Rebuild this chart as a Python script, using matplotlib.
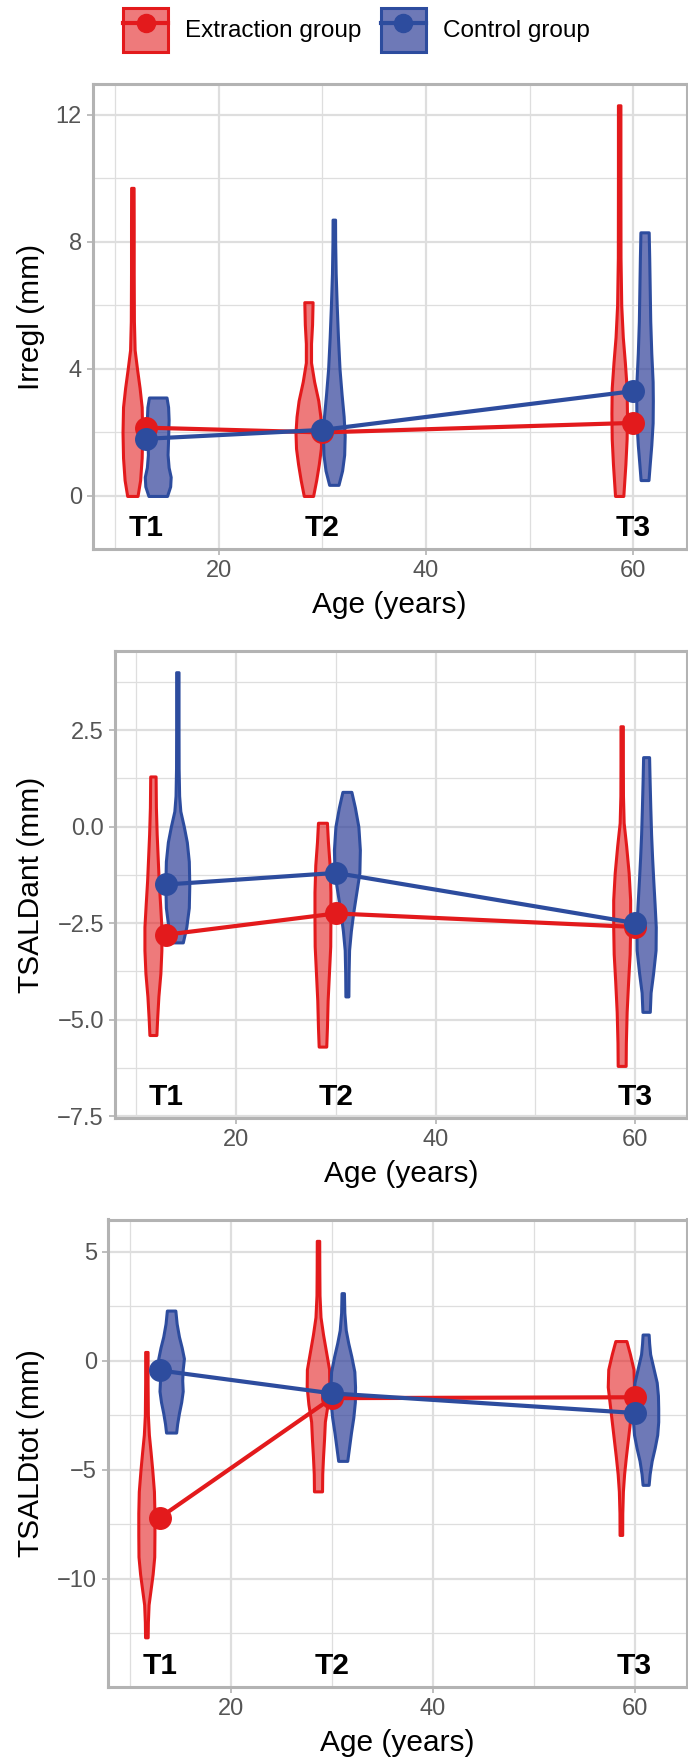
import numpy as np
import matplotlib.pyplot as plt
from matplotlib.colors import to_rgba
from matplotlib.patches import Patch
from matplotlib.lines import Line2D
from matplotlib.legend_handler import HandlerTuple

plt.rcParams['font.family'] = ['Liberation Sans', 'DejaVu Sans']

# time points
ages = [13, 30, 60]
time_labels = ['T1', 'T2', 'T3']
groups = ['Extraction group', 'Control group']

# group means
irregl_ext = [2.15, 2.0, 2.3]
irregl_ctl = [1.8, 2.08, 3.3]
ant_ext = [-2.8, -2.25, -2.6]
ant_ctl = [-1.5, -1.2, -2.5]
tot_ext = [-7.2, -1.72, -1.68]
tot_ctl = [-0.45, -1.5, -2.4]

# violin outlines: y levels and half widths (years)
irregl_ext_vy = [[0, 0.5, 1.2, 2.0, 2.8, 3.4, 4.0, 4.6, 5.5, 7.0, 8.5, 9.7],
                 [0, 0.5, 1.0, 1.5, 2.0, 2.5, 3.0, 3.6, 4.2, 4.8, 5.4, 6.1],
                 [0, 0.5, 1.0, 1.8, 2.6, 3.4, 4.2, 5.0, 6.0, 7.5, 10, 12.3]]
irregl_ext_vw = [[0.5, 0.75, 0.9, 0.95, 0.9, 0.7, 0.45, 0.22, 0.15, 0.13, 0.13, 0.12],
                 [0.45, 0.75, 1.0, 1.2, 1.25, 1.15, 0.95, 0.55, 0.25, 0.25, 0.35, 0.4],
                 [0.4, 0.5, 0.6, 0.72, 0.75, 0.72, 0.55, 0.35, 0.2, 0.13, 0.12, 0.12]]
irregl_ctl_vy = [[0, 0.3, 0.6, 0.9, 1.3, 1.8, 2.4, 2.8, 3.1],
                 [0.35, 0.8, 1.3, 1.9, 2.5, 3.2, 4.0, 5.0, 6.0, 7.0, 8.0, 8.7],
                 [0.5, 1.0, 1.6, 2.3, 3.0, 3.6, 4.5, 5.5, 6.5, 7.5, 8.3]]
irregl_ctl_vw = [[0.9, 1.2, 1.25, 1.05, 0.95, 1.0, 1.05, 1.0, 0.85],
                 [0.45, 0.8, 1.0, 1.05, 0.95, 0.75, 0.55, 0.4, 0.28, 0.18, 0.13, 0.12],
                 [0.38, 0.5, 0.65, 0.78, 0.8, 0.78, 0.65, 0.55, 0.5, 0.45, 0.4]]

ant_ext_vy = [[-5.4, -5.0, -4.4, -3.8, -3.2, -2.6, -2.0, -1.4, -0.8, -0.2, 0.5, 1.3],
              [-5.7, -5.2, -4.5, -3.8, -3.1, -2.4, -1.7, -1.0, -0.4, 0.1],
              [-6.2, -5.6, -4.8, -4.0, -3.3, -2.6, -1.9, -1.2, -0.5, 0.1, 0.8, 1.6, 2.6]]
ant_ext_vw = [[0.35, 0.42, 0.55, 0.75, 0.85, 0.85, 0.72, 0.58, 0.48, 0.38, 0.3, 0.27],
              [0.38, 0.45, 0.52, 0.65, 0.78, 0.8, 0.8, 0.72, 0.55, 0.45],
              [0.4, 0.42, 0.5, 0.65, 0.8, 0.85, 0.85, 0.7, 0.45, 0.2, 0.13, 0.12, 0.12]]
ant_ctl_vy = [[-3.0, -2.6, -2.1, -1.5, -0.9, -0.4, 0.0, 0.4, 0.8, 1.5, 2.5, 3.3, 4.0],
              [-4.4, -3.8, -3.2, -2.7, -2.2, -1.7, -1.2, -0.6, 0.0, 0.5, 0.9],
              [-4.8, -4.3, -3.8, -3.2, -2.6, -2.0, -1.4, -0.8, -0.2, 0.5, 1.2, 1.8]]
ant_ctl_vw = [[0.55, 0.9, 1.15, 1.2, 1.15, 0.95, 0.65, 0.3, 0.18, 0.13, 0.12, 0.12, 0.12],
              [0.15, 0.17, 0.22, 0.4, 0.65, 0.95, 1.25, 1.3, 1.15, 0.8, 0.45],
              [0.37, 0.45, 0.7, 0.95, 0.97, 0.85, 0.72, 0.6, 0.5, 0.42, 0.35, 0.3]]

tot_ext_vy = [[-12.7, -12.0, -11.2, -10.5, -9.8, -9.0, -8.0, -7.0, -6.0, -5.0, -4.2, -3.4, -2.5, -1.0, 0.4],
              [-6.0, -5.2, -4.4, -3.6, -2.8, -2.0, -1.2, -0.4, 0.4, 1.2, 2.0, 3.0, 4.2, 5.5],
              [-8.0, -7.0, -6.0, -5.2, -4.4, -3.6, -2.8, -2.0, -1.2, -0.4, 0.3, 0.9]]
tot_ext_vw = [[0.13, 0.15, 0.22, 0.42, 0.62, 0.78, 0.8, 0.8, 0.75, 0.58, 0.42, 0.25, 0.15, 0.12, 0.12],
              [0.4, 0.42, 0.5, 0.6, 0.68, 0.95, 1.12, 1.1, 0.8, 0.5, 0.25, 0.15, 0.13, 0.12],
              [0.13, 0.14, 0.2, 0.32, 0.5, 0.7, 0.9, 1.1, 1.3, 1.25, 0.9, 0.55]]
tot_ctl_vy = [[-3.3, -2.9, -2.4, -1.9, -1.4, -0.9, -0.4, 0.1, 0.6, 1.1, 1.7, 2.3],
              [-4.6, -4.0, -3.3, -2.6, -1.9, -1.2, -0.5, 0.2, 0.8, 1.4, 2.2, 3.1],
              [-5.7, -5.2, -4.6, -4.0, -3.4, -2.8, -2.2, -1.6, -1.0, -0.4, 0.3, 0.8, 1.2]]
tot_ctl_vw = [[0.5, 0.6, 0.78, 1.0, 1.15, 1.1, 1.15, 1.27, 1.05, 0.78, 0.55, 0.42],
              [0.45, 0.62, 0.82, 1.05, 1.2, 1.22, 1.15, 0.85, 0.55, 0.3, 0.16, 0.12],
              [0.3, 0.4, 0.6, 0.9, 1.15, 1.25, 1.25, 1.22, 1.1, 0.8, 0.45, 0.35, 0.3]]

red = '#E31A1C'
blue = '#2D4C9E'
red_fill = to_rgba('#E31A1C', 0.58)
blue_fill = to_rgba('#2A3A96', 0.68)
grid_col = '#DEDEDE'
frame_col = '#B3B3B3'

panels = [
    dict(label='Irregl (mm)', ext=irregl_ext, ctl=irregl_ctl,
         evy=irregl_ext_vy, evw=irregl_ext_vw, cvy=irregl_ctl_vy, cvw=irregl_ctl_vw,
         yticks=[0, 4, 8, 12], yminor=[2, 6, 10], fmt='{:g}', ylim=(-1.67, 12.97), ty=-1,
         rect=[93, 84, 686.5, 549]),
    dict(label='TSALDant (mm)', ext=ant_ext, ctl=ant_ctl,
         evy=ant_ext_vy, evw=ant_ext_vw, cvy=ant_ctl_vy, cvw=ant_ctl_vw,
         yticks=[-7.5, -5, -2.5, 0, 2.5], yminor=[-6.25, -3.75, -1.25, 1.25, 3.75],
         fmt='{:.1f}', ylim=(-7.55, 4.55), ty=-7, rect=[115, 651, 686.5, 1118]),
    dict(label='TSALDtot (mm)', ext=tot_ext, ctl=tot_ctl,
         evy=tot_ext_vy, evw=tot_ext_vw, cvy=tot_ctl_vy, cvw=tot_ctl_vw,
         yticks=[-10, -5, 0, 5], yminor=[-12.5, -7.5, -2.5, 2.5], fmt='{:g}',
         ylim=(-14.98, 6.48), ty=-14, rect=[108, 1219.5, 686.5, 1687]),
]

W, H = 688, 1760
fig = plt.figure(figsize=(W / 100, H / 100), dpi=100)
ext_off, ctl_off = -1.35, 1.1

for p in panels:
    l, t, r, b = p['rect']
    ax = fig.add_axes([l / W, 1 - b / H, (r - l) / W, (b - t) / H])
    ax.set_xlim(7.85, 65.15)
    ax.set_ylim(*p['ylim'])

    ax.set_xticks([20, 40, 60])
    ax.set_xticks([10, 30, 50], minor=True)
    ax.set_yticks(p['yticks'])
    ax.set_yticks(p['yminor'], minor=True)
    ax.set_yticklabels([p['fmt'].format(v).replace('-', '\u2212') for v in p['yticks']])
    ax.grid(True, which='major', color=grid_col, lw=1.6, zorder=0)
    ax.grid(True, which='minor', color=grid_col, lw=0.9, zorder=0)
    ax.set_axisbelow(True)
    ax.tick_params(which='major', labelsize=17, labelcolor='#555555', color=frame_col,
                   length=4, width=1.2, pad=4)
    ax.tick_params(which='minor', length=0)
    for s in ax.spines.values():
        s.set_color(frame_col)
        s.set_linewidth(2.2)

    for i, a in enumerate(ages):
        vy = np.array(p['evy'][i])
        vw = np.array(p['evw'][i])
        ax.fill_betweenx(vy, a + ext_off - vw, a + ext_off + vw, facecolor=red_fill,
                         edgecolor=red, lw=2.2, joinstyle='round', zorder=2)
        vy = np.array(p['cvy'][i])
        vw = np.array(p['cvw'][i])
        ax.fill_betweenx(vy, a + ctl_off - vw, a + ctl_off + vw, facecolor=blue_fill,
                         edgecolor=blue, lw=2.2, joinstyle='round', zorder=2)

    ax.plot(ages, p['ext'], color=red, lw=3, marker='o', ms=15.5, zorder=3)
    ax.plot(ages, p['ctl'], color=blue, lw=3, marker='o', ms=15.5, zorder=4)

    for a, s in zip(ages, time_labels):
        ax.text(a, p['ty'], s, ha='center', va='center', fontsize=21.5,
                fontweight='bold', color='black', zorder=5)

    h = b - t
    ax.set_xlabel('Age (years)', fontsize=21.5, color='black')
    ax.xaxis.set_label_coords(0.5, -56 / h)
    ax.xaxis.label.set_va('center')
    ax.set_ylabel(p['label'], fontsize=21.5, color='black')
    ax.yaxis.set_label_coords((31.5 - l) / (r - l), 0.5)
    ax.yaxis.label.set_va('center')

handles = [
    (Patch(facecolor=red_fill, edgecolor=red, lw=2.2),
     Line2D([], [], color=red, lw=3, marker='o', ms=13)),
    (Patch(facecolor=blue_fill, edgecolor=blue, lw=2.2),
     Line2D([], [], color=blue, lw=3, marker='o', ms=13)),
]
fig.legend(handles, groups, handler_map={tuple: HandlerTuple(ndivide=1)},
           loc='center', bbox_to_anchor=(0.518, 1 - 30 / H), ncol=2, frameon=False,
           fontsize=17.5, handlelength=1.85, handleheight=2.4, handletextpad=0.7,
           columnspacing=0.8)

fig.savefig('out.png', dpi=100, facecolor='white')
